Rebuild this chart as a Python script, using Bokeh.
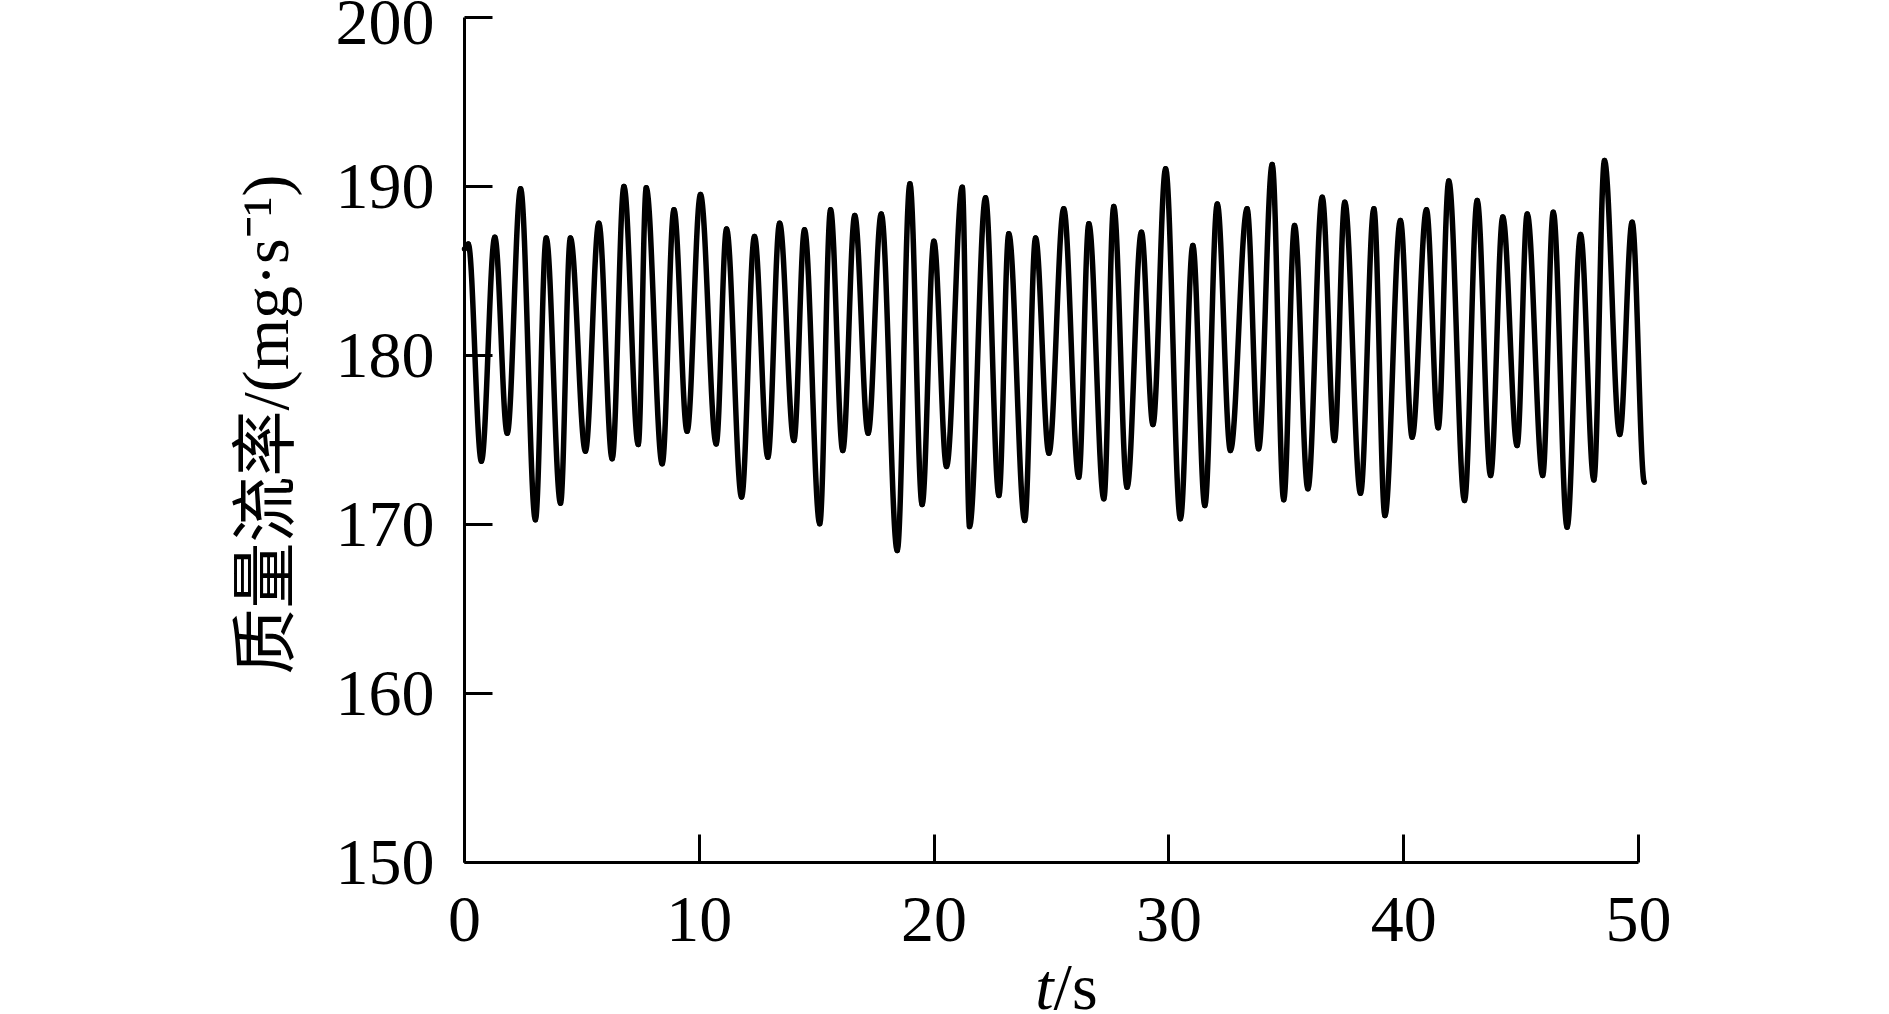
import math
from bokeh.plotting import figure
from bokeh.models import Label, FixedTicker, Range1d, ColumnDataSource
from bokeh.embed import file_html
from bokeh.resources import INLINE

# Extrema of the mass-flow-rate trace (time in s, value in mg/s)
t_ext = [0.0, 0.16, 0.72, 1.29, 1.82, 2.39, 3.02, 3.48, 4.09, 4.51, 5.15, 5.72, 6.29,
         6.79, 7.40, 7.74, 8.42, 8.92, 9.48, 10.05, 10.72, 11.16, 11.80, 12.35, 12.92,
         13.42, 14.03, 14.48, 15.13, 15.59, 16.11, 16.62, 17.19, 17.75, 18.43, 18.97,
         19.49, 19.99, 20.53, 21.20, 21.51, 22.19, 22.76, 23.18, 23.86, 24.32, 24.89,
         25.52, 26.16, 26.59, 27.23, 27.65, 28.22, 28.83, 29.32, 29.86, 30.49, 31.02,
         31.53, 32.06, 32.62, 33.33, 33.82, 34.40, 34.89, 35.35, 35.92, 36.53, 37.05,
         37.49, 38.16, 38.73, 39.20, 39.86, 40.36, 40.97, 41.47, 41.92, 42.59, 43.13,
         43.70, 44.22, 44.83, 45.26, 45.92, 46.37, 46.96, 47.53, 48.10, 48.55, 49.20,
         49.73, 50.25]
flow_ext = [186.3, 186.6, 173.75, 187.0, 175.4, 189.86, 170.28, 186.96, 171.26, 186.96,
            174.34, 187.83, 173.89, 190.0, 174.73, 189.92, 173.59, 188.62, 175.52, 189.53,
            174.77, 187.49, 171.62, 187.04, 173.98, 187.83, 174.97, 187.44, 170.04, 188.62,
            174.38, 188.28, 175.40, 188.38, 168.46, 190.16, 171.18, 186.76, 173.43, 189.96,
            169.88, 189.33, 171.72, 187.20, 170.24, 186.96, 174.22, 188.68, 172.80, 187.79,
            171.52, 188.82, 172.21, 187.30, 175.92, 191.05, 170.34, 186.51, 171.12, 188.97,
            174.38, 188.68, 174.48, 191.30, 171.46, 187.69, 172.11, 189.37, 174.97, 189.07,
            171.85, 188.68, 170.53, 187.99, 175.17, 188.62, 175.72, 190.32, 171.42, 189.17,
            172.90, 188.19, 174.67, 188.38, 172.90, 188.48, 169.84, 187.16, 172.64, 191.54,
            175.33, 187.89, 172.50]

x_ticks = [0, 10, 20, 30, 40, 50]
y_ticks = [150, 160, 170, 180, 190, 200]
y_label = "质量流率/(mg·s⁻¹)"
x_label_var = "t"
x_label_unit = "/s"

# Bezier segments between consecutive extrema (horizontal tangents at extrema)
k = 0.36
x0 = t_ext[:-1]
x1 = t_ext[1:]
y0 = flow_ext[:-1]
y1 = flow_ext[1:]
cx0 = [a + (b - a) * k for a, b in zip(x0, x1)]
cx1 = [b - (b - a) * k for a, b in zip(x0, x1)]
src = ColumnDataSource(dict(x0=x0, y0=y0, x1=x1, y1=y1, cx0=cx0, cy0=y0, cx1=cx1, cy1=y1))

# Canvas geometry: the frame fills the whole canvas; axes are pinned at t=0 and 150
W, H = 1873, 1014
PX_X, PX_Y = 23.48, 16.9          # pixels per data unit
X0_PX, Y200_PX = 464, 17          # canvas position of t=0 and of 200
xs = -X0_PX / PX_X
ys_top = 200 + Y200_PX / PX_Y
p = figure(width=W, height=H,
           x_range=Range1d(xs, xs + W / PX_X), y_range=Range1d(ys_top - H / PX_Y, ys_top),
           output_backend="svg", toolbar_location=None,
           min_border_left=0, min_border_top=0, min_border_right=0, min_border_bottom=0)
p.outline_line_color = None
p.grid.visible = False
p.background_fill_color = "white"
p.border_fill_color = "white"

p.bezier(x0="x0", y0="y0", x1="x1", y1="y1", cx0="cx0", cy0="cy0", cx1="cx1", cy1="cy1",
         source=src, line_color="black", line_width=5.5, line_cap="round")

FONT = "Liberation Serif"
for ax in (p.xaxis[0], p.yaxis[0]):
    ax.axis_line_width = 3
    ax.axis_line_color = "black"
    ax.major_tick_line_width = 3
    ax.major_tick_line_color = "black"
    ax.major_tick_in = 28
    ax.major_tick_out = 0
    ax.minor_tick_line_color = None
    ax.major_label_text_font = FONT
    ax.major_label_text_font_size = "66px"
    ax.major_label_text_color = "black"

p.xaxis.ticker = FixedTicker(ticks=x_ticks)
p.yaxis.ticker = FixedTicker(ticks=y_ticks)
p.xaxis.bounds = (0, 50)
p.yaxis.bounds = (150, 200)
p.xaxis.fixed_location = 150
p.yaxis.fixed_location = 0
p.xaxis.major_label_standoff = 35
p.yaxis.major_label_standoff = 30

lab_y = Label(x=(265 - X0_PX) / PX_X, y=200 - (424 - Y200_PX) / PX_Y, text=y_label,
              angle=math.pi / 2, text_font="Liberation Serif, Noto Sans CJK SC",
              text_font_size="66px", text_align="center", text_baseline="middle",
              text_color="black")
lab_t = Label(x=25.09, y=142.66, text=x_label_var, text_font=FONT, text_font_size="66px",
              text_font_style="italic", text_align="right", text_baseline="alphabetic",
              text_color="black")
lab_s = Label(x=25.09, y=142.66, text=x_label_unit, text_font=FONT, text_font_size="66px",
              text_align="left", text_baseline="alphabetic", text_color="black")
p.add_layout(lab_y)
p.add_layout(lab_t)
p.add_layout(lab_s)

open("out.html", "w").write(file_html(p, INLINE))
